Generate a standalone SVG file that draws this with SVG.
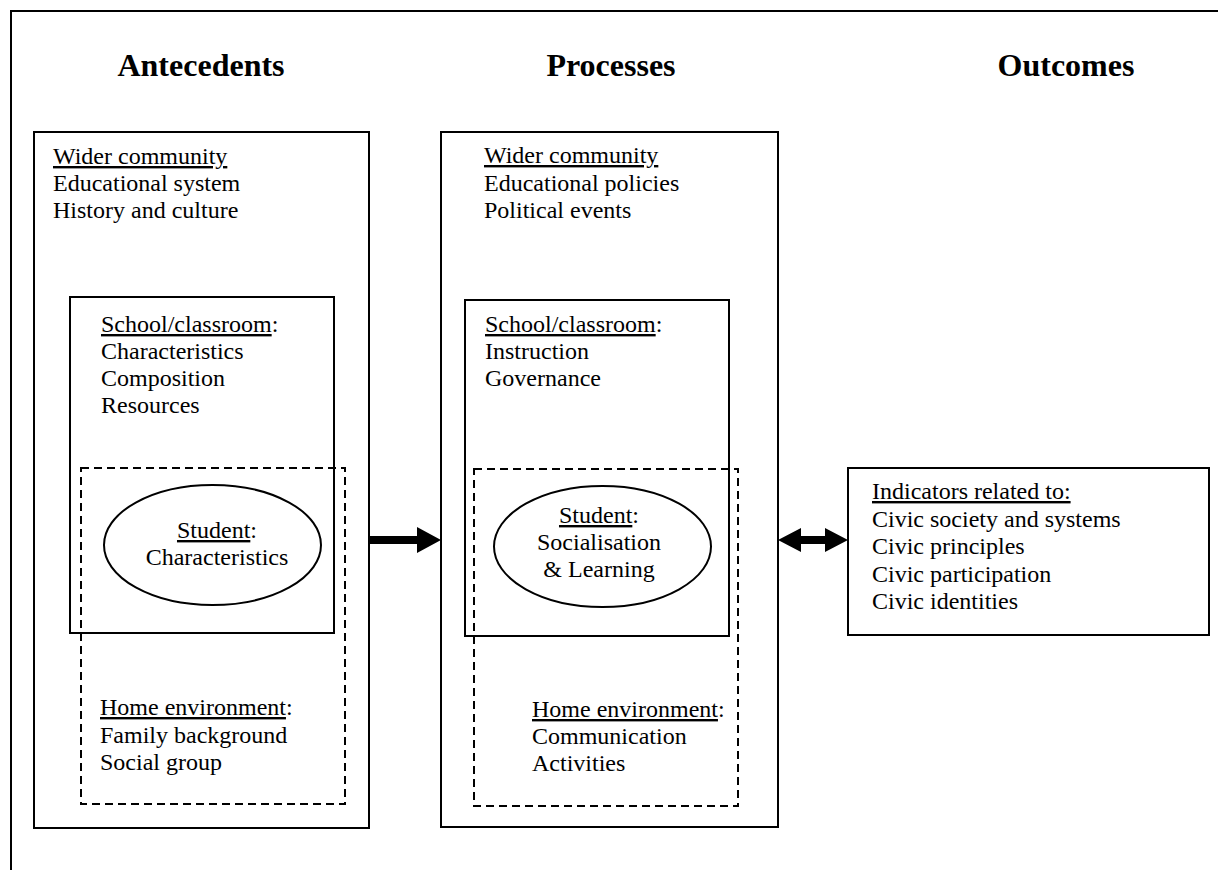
<svg xmlns="http://www.w3.org/2000/svg" width="1218" height="870" viewBox="0 0 1218 870">
<style>
text{font-family:"Liberation Serif","Times New Roman",serif;font-size:24px;fill:#000}
.h{font-weight:bold;font-size:32px;text-anchor:middle}
.c{text-anchor:middle}
.u{text-decoration:underline}
.box{fill:none;stroke:#000;stroke-width:2}
.dash{fill:none;stroke:#000;stroke-width:2;stroke-dasharray:8 5}
</style>
<rect width="1218" height="870" fill="#fff"/>
<path d="M11 870 V11 H1218" fill="none" stroke="#000" stroke-width="2"/>
<g id="headers">
<text class="h" x="201" y="76">Antecedents</text>
<text class="h" x="611" y="76">Processes</text>
<text class="h" x="1066" y="76">Outcomes</text>
</g>
<g id="antecedents">
<rect class="box" x="34" y="132" width="335" height="696"/>
<text x="53" y="164"><tspan class="u">Wider community</tspan></text>
<text x="53" y="191">Educational system</text>
<text x="53" y="218">History and culture</text>
</g>
<g id="ant-school">
<rect class="box" x="70" y="297" width="264" height="336"/>
<text x="101" y="332"><tspan class="u">School/classroom</tspan>:</text>
<text x="101" y="359">Characteristics</text>
<text x="101" y="386">Composition</text>
<text x="101" y="413">Resources</text>
</g>
<g id="ant-home">
<rect class="dash" x="81" y="468" width="264" height="336"/>
<text x="100" y="715"><tspan class="u">Home environment</tspan>:</text>
<text x="100" y="743">Family background</text>
<text x="100" y="770">Social group</text>
</g>
<g id="ant-student">
<ellipse class="box" cx="212.5" cy="545" rx="108.5" ry="60" fill="#fff"/>
<text class="c" x="217" y="538"><tspan class="u">Student</tspan>:</text>
<text class="c" x="217" y="565">Characteristics</text>
</g>
<g id="processes">
<rect class="box" x="441" y="132" width="337" height="695"/>
<text x="484" y="163"><tspan class="u">Wider community</tspan></text>
<text x="484" y="191">Educational policies</text>
<text x="484" y="218">Political events</text>
</g>
<g id="proc-school">
<rect class="box" x="465" y="300" width="264" height="336"/>
<text x="485" y="332"><tspan class="u">School/classroom</tspan>:</text>
<text x="485" y="359">Instruction</text>
<text x="485" y="386">Governance</text>
</g>
<g id="proc-home">
<rect class="dash" x="474" y="469" width="264" height="337"/>
<text x="532" y="717"><tspan class="u">Home environment</tspan>:</text>
<text x="532" y="744">Communication</text>
<text x="532" y="771">Activities</text>
</g>
<g id="proc-student">
<ellipse class="box" cx="602.5" cy="546.5" rx="108.5" ry="60.5" fill="#fff"/>
<text class="c" x="599" y="523"><tspan class="u">Student</tspan>:</text>
<text class="c" x="599" y="550">Socialisation</text>
<text class="c" x="599" y="577">&amp; Learning</text>
</g>
<g id="outcomes">
<rect class="box" x="848" y="468" width="361" height="167"/>
<text x="872" y="499"><tspan class="u">Indicators related to:</tspan></text>
<text x="872" y="527">Civic society and systems</text>
<text x="872" y="554">Civic principles</text>
<text x="872" y="582">Civic participation</text>
<text x="872" y="609">Civic identities</text>
</g>
<g id="connectors" fill="#000">
<polygon points="370,536 417,536 417,527 441,540 417,553 417,544 370,544"/>
<polygon points="778,540 801,528 801,536 825,536 825,528 848,540 825,552 825,544 801,544 801,552"/>
</g>
</svg>
